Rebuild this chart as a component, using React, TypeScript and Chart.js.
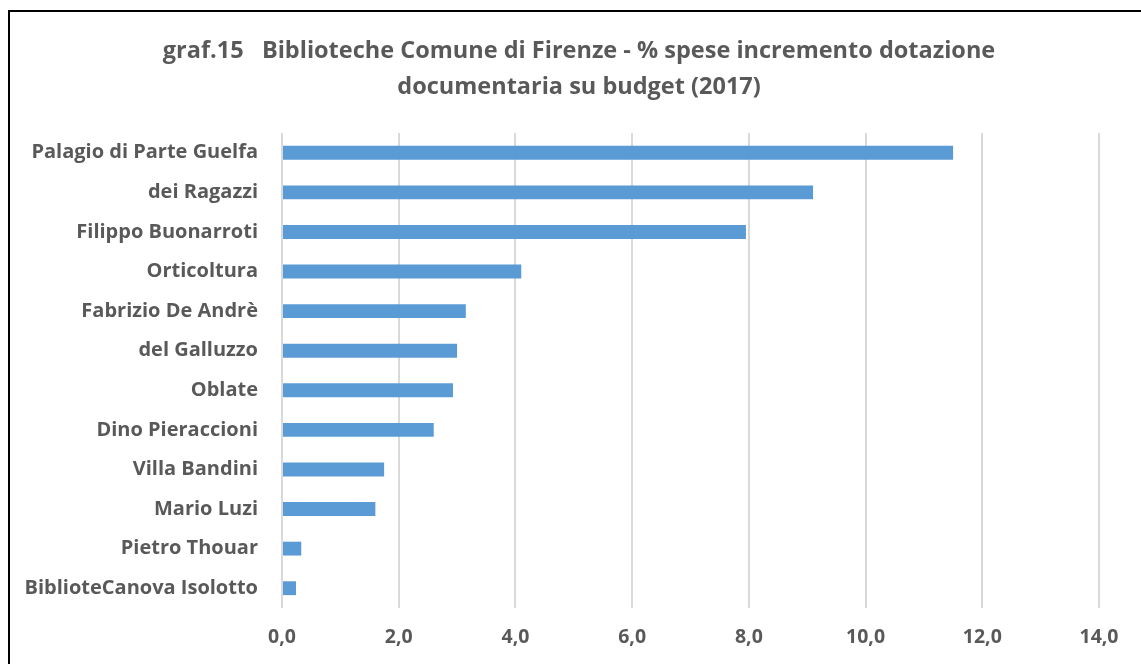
import React, { useEffect, useRef } from "react";
import { Chart, registerables } from "chart.js";

Chart.register(...registerables);

const categories = [
  "Palagio di Parte Guelfa",
  "dei Ragazzi",
  "Filippo Buonarroti",
  "Orticoltura",
  "Fabrizio De Andrè",
  "del Galluzzo",
  "Oblate",
  "Dino Pieraccioni",
  "Villa Bandini",
  "Mario Luzi",
  "Pietro Thouar",
  "BiblioteCanova Isolotto",
];
const values = [11.5, 9.1, 7.95, 4.1, 3.15, 3.0, 2.93, 2.6, 1.75, 1.6, 0.33, 0.24];
const titleLines = [
  "graf.15   Biblioteche Comune di Firenze - % spese incremento dotazione",
  "documentaria su budget (2017)",
];
const xMin = 0;
const xMax = 14;
const xStep = 2;

const FONT = "'Open Sans', 'Liberation Sans', sans-serif";

const titlePlugin = {
  id: "customTitle",
  afterDraw(chart: any) {
    const ctx = chart.ctx;
    ctx.save();
    ctx.fillStyle = "#595959";
    ctx.font = `bold 23.5px ${FONT}`;
    ctx.textAlign = "center";
    ctx.textBaseline = "middle";
    titleLines.forEach((line, i) => {
      ctx.fillText(line, 569, 39 + i * 36);
    });
    ctx.restore();
  },
};

export default function App() {
  const ref = useRef<HTMLCanvasElement | null>(null);
  useEffect(() => {
    if (!ref.current) return;
    const chart = new Chart(ref.current, {
      type: "bar",
      data: {
        labels: categories,
        datasets: [
          {
            data: values,
            backgroundColor: "#5B9BD5",
            borderWidth: 0,
            barPercentage: 0.35,
            categoryPercentage: 1,
          },
        ],
      },
      plugins: [titlePlugin],
      options: {
        indexAxis: "y",
        animation: false,
        responsive: false,
        layout: { padding: { left: 0, right: 42, top: 121, bottom: 0 } },
        plugins: {
          legend: { display: false },
          tooltip: { enabled: false },
          title: { display: false },
        },
        scales: {
          x: {
            min: xMin,
            max: xMax,
            ticks: {
              stepSize: xStep,
              color: "#595959",
              font: { family: FONT, size: 19.5, weight: "bold" },
              padding: 18,
              callback: (v: any) => Number(v).toFixed(1).replace(".", ","),
            },
            grid: { color: "#D9D9D9", lineWidth: 2, drawTicks: false },
            border: { display: false },
            afterFit: (s: any) => {
              s.height = 56;
            },
          },
          y: {
            ticks: {
              color: "#595959",
              font: { family: FONT, size: 20, weight: "bold" },
              padding: 24,
            },
            grid: { display: false, drawTicks: false },
            border: { display: false },
            afterFit: (s: any) => {
              s.width = 272;
            },
          },
        },
      },
    });
    return () => chart.destroy();
  }, []);
  return (
    <div
      style={{
        position: "absolute",
        left: 8,
        top: 10,
        width: 1160,
        height: 680,
        border: "2px solid #000",
        background: "#fff",
      }}
    >
      <canvas ref={ref} width={1131} height={652} style={{ display: "block" }} />
    </div>
  );
}
